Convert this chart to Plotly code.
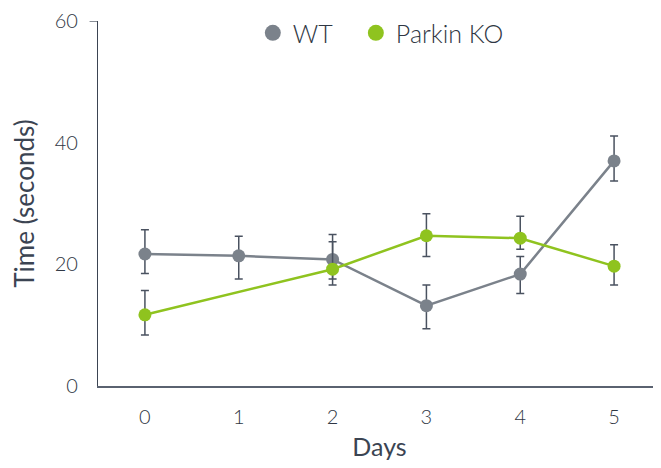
import plotly.graph_objects as go

days = [0, 1, 2, 3, 4, 5]
wt_mean = [21.7, 21.4, 20.8, 13.2, 18.4, 37.0]
wt_err_up = [4.0, 3.2, 4.1, 3.4, 2.9, 4.1]
wt_err_down = [3.2, 3.8, 4.2, 3.8, 3.2, 3.3]
ko_mean = [11.7, None, 19.2, 24.7, 24.3, 19.7]
ko_err_up = [4.0, None, 4.5, 3.6, 3.6, 3.5]
ko_err_down = [3.3, None, 1.6, 3.4, 1.8, 3.1]

grey = "#7b828b"
green = "#8fc31f"
dark = "#3b4452"
err_col = "#4a5260"
font_family = "Lato, 'Open Sans', sans-serif"

fig = go.Figure()
fig.add_trace(go.Scatter(
    x=days, y=wt_mean, name="WT", mode="lines+markers", showlegend=False,
    line=dict(color=grey, width=2.5),
    marker=dict(color=grey, size=13),
    error_y=dict(type="data", symmetric=False, array=wt_err_up, arrayminus=wt_err_down,
                 color=err_col, thickness=1.5, width=4),
))
fig.add_trace(go.Scatter(
    x=days, y=ko_mean, name="Parkin KO", mode="lines+markers", connectgaps=True, showlegend=False,
    line=dict(color=green, width=2.5),
    marker=dict(color=green, size=13),
    error_y=dict(type="data", symmetric=False, array=ko_err_up, arrayminus=ko_err_down,
                 color=err_col, thickness=1.5, width=4),
))
# legend entries (markers only)
fig.add_trace(go.Scatter(x=[None], y=[None], name="WT", mode="markers", legend="legend",
                         marker=dict(color=grey, size=20)))
fig.add_trace(go.Scatter(x=[None], y=[None], name="Parkin KO", mode="markers", legend="legend2",
                         marker=dict(color=green, size=20)))

legend_common = dict(orientation="h", y=0.967, xanchor="left", yanchor="middle",
                     font=dict(size=25, color="#2f3744", weight=300), itemsizing="trace",
                     bgcolor="rgba(0,0,0,0)", itemwidth=30)

fig.update_layout(
    width=653, height=460,
    margin=dict(l=90, r=0, t=13, b=82),
    paper_bgcolor="white", plot_bgcolor="white",
    font=dict(family=font_family, color="#2f3744", size=20, weight=300),
    showlegend=True,
    legend=dict(x=0.275, **legend_common),
    legend2=dict(x=0.458, **legend_common),
    xaxis=dict(range=[-0.5, 5.5], tickmode="array", tickvals=days, automargin=False,
               showline=True, linecolor="#5a6270", linewidth=1.5,
               showgrid=False, zeroline=False, ticks="", ticklabelstandoff=12,
               title=dict(text="Days", font=dict(size=25, color=dark, weight=400), standoff=12)),
    yaxis=dict(range=[0, 60], tickvals=[0, 20, 40, 60], automargin=False,
               showline=True, linecolor="#3b4452", linewidth=1.2,
               showgrid=False, zeroline=False, ticks="", ticklabelstandoff=15,
               title=dict(text="Time (seconds)", font=dict(size=26, color=dark, weight=400), standoff=17)),
)
fig.add_shape(type="line", xref="paper", yref="y", x0=-0.015, x1=0, y0=60, y1=60,
              line=dict(color="#3b4452", width=1.2))

fig.write_html("out.html")
